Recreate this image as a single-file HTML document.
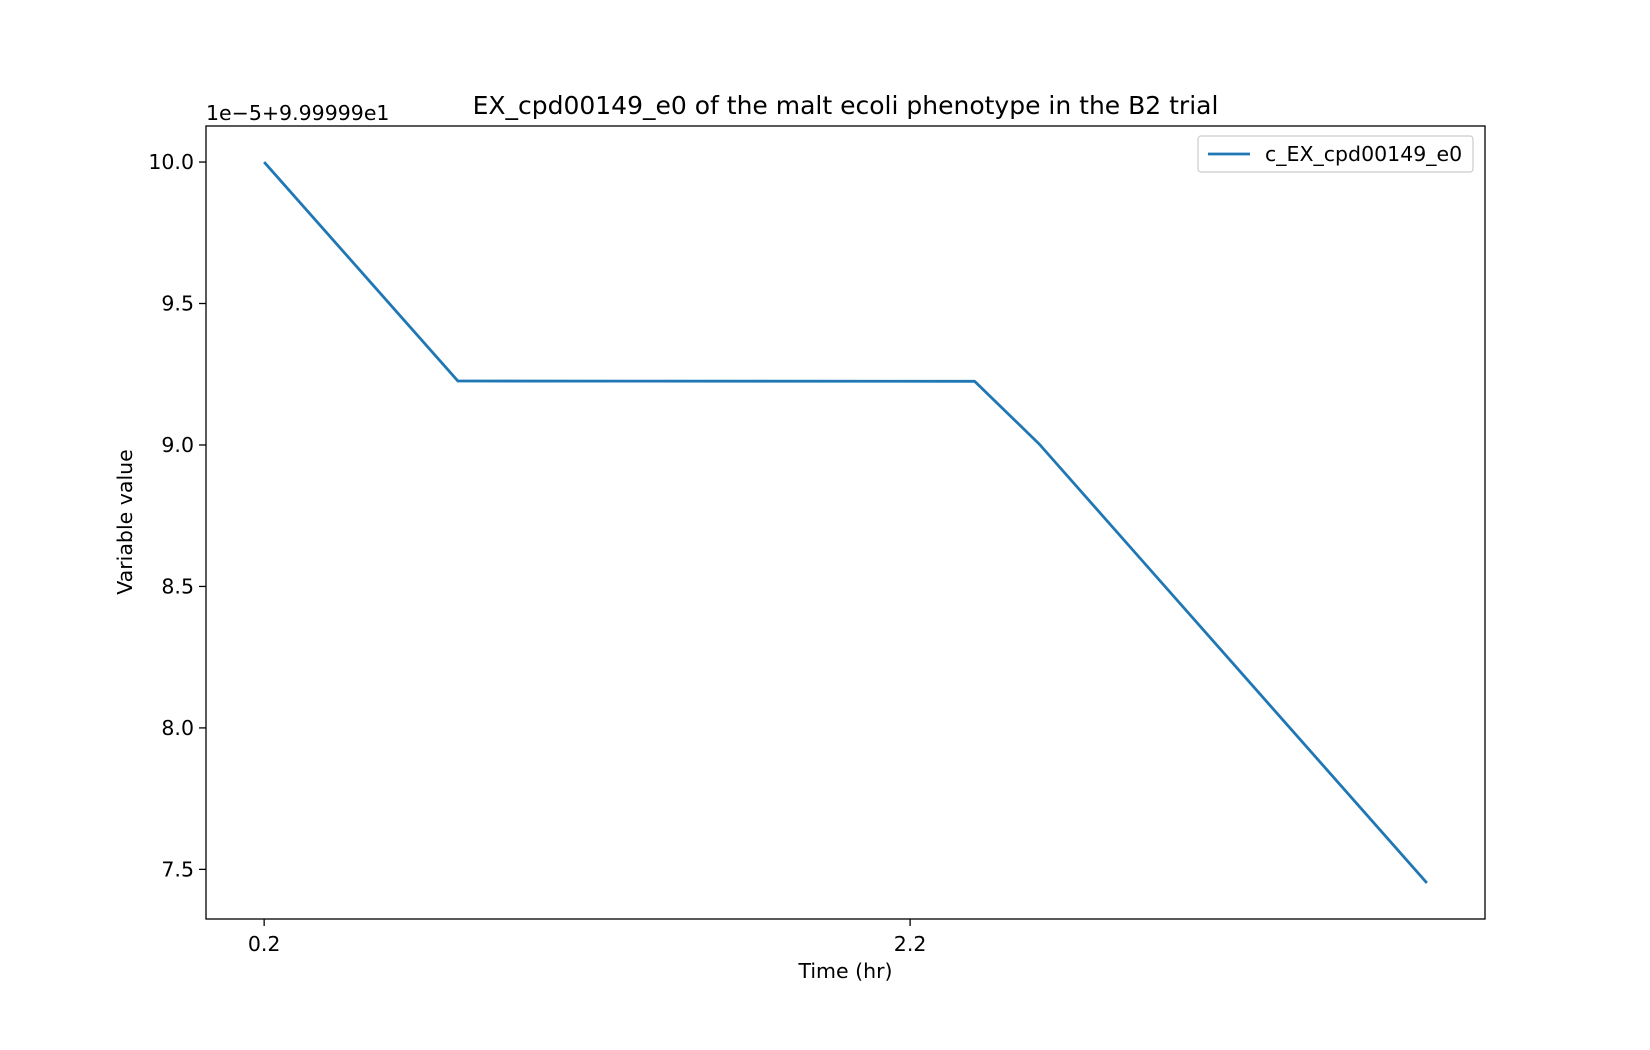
<!DOCTYPE html>
<html><head><meta charset="utf-8"><style>
html,body{margin:0;padding:0;background:#fff;}
svg{display:block;font-family:"DejaVu Sans","Liberation Sans",sans-serif;}
</style></head><body>
<svg id="chart" width="1650" height="1050">
<rect width="1650" height="1050" fill="#fff"/>
<text x="845.5" y="114" font-size="25" text-anchor="middle">EX_cpd00149_e0 of the malt ecoli phenotype in the B2 trial</text>
<text x="206" y="120" font-size="20.5">1e−5+9.99999e1</text>
<g id="yticks"></g>
<g id="xticks"></g>
<polyline id="series" fill="none" stroke="#1f77b4" stroke-width="2.8" stroke-linejoin="round"/>
<rect x="206" y="126" width="1279" height="793" fill="none" stroke="#000" stroke-width="1.3"/>
<text x="845.5" y="978" font-size="20.5" text-anchor="middle">Time (hr)</text>
<text transform="translate(132,522) rotate(-90)" font-size="20.5" text-anchor="middle">Variable value</text>
<g>
<rect x="1198" y="136" width="275" height="36" rx="3" fill="#fff" stroke="#ccc" stroke-width="1.2"/>
<line x1="1208" y1="154" x2="1250" y2="154" stroke="#1f77b4" stroke-width="2.8"/>
<text x="1265" y="161" font-size="20.5">c_EX_cpd00149_e0</text>
</g>
</svg>
<script>
const times = [0.2, 0.8, 2.4, 2.6, 3.8];
const values = [10.0, 9.226, 9.225, 9.003, 7.452];
const yTickValues = [7.5, 8.0, 8.5, 9.0, 9.5, 10.0];
const yTickLabels = ["7.5", "8.0", "8.5", "9.0", "9.5", "10.0"];
const xTickValues = [0.2, 2.2];
const xTickLabels = ["0.2", "2.2"];

const L=206,R=1485,T=126,B=919;
const xmin=Math.min(...times),xmax=Math.max(...times),xp=(xmax-xmin)*0.05;
const ymin=Math.min(...values),ymax=Math.max(...values),yp=(ymax-ymin)*0.05;
const sx=v=>L+(v-(xmin-xp))/((xmax+xp)-(xmin-xp))*(R-L);
const sy=v=>B-(v-(ymin-yp))/((ymax+yp)-(ymin-yp))*(B-T);
const NS="http://www.w3.org/2000/svg";
const yg=document.getElementById('yticks'), xg=document.getElementById('xticks');
yTickValues.forEach((v,i)=>{
  const y=sy(v);
  const ln=document.createElementNS(NS,'line');
  ln.setAttribute('x1',L-7);ln.setAttribute('x2',L);ln.setAttribute('y1',y);ln.setAttribute('y2',y);
  ln.setAttribute('stroke','#000');ln.setAttribute('stroke-width','1.3');
  
  
  yg.appendChild(ln);
  const t=document.createElementNS(NS,'text');
  t.setAttribute('x',L-12);t.setAttribute('y',y+7);t.setAttribute('text-anchor','end');t.setAttribute('font-size','20.5');
  t.textContent=yTickLabels[i];
  
  
  yg.appendChild(t);
});
xTickValues.forEach((v,i)=>{
  const x=sx(v);
  const ln=document.createElementNS(NS,'line');
  ln.setAttribute('x1',x);ln.setAttribute('x2',x);ln.setAttribute('y1',B);ln.setAttribute('y2',B+7);
  ln.setAttribute('stroke','#000');ln.setAttribute('stroke-width','1.3');
  
  
  xg.appendChild(ln);
  const t=document.createElementNS(NS,'text');
  t.setAttribute('x',x);t.setAttribute('y',B+32);t.setAttribute('text-anchor','middle');t.setAttribute('font-size','20.5');
  t.textContent=xTickLabels[i];
  
  
  xg.appendChild(t);
});
document.getElementById('series').setAttribute('points', times.map((t,i)=>sx(t)+','+sy(values[i])).join(' '));
</script>
</body></html>
